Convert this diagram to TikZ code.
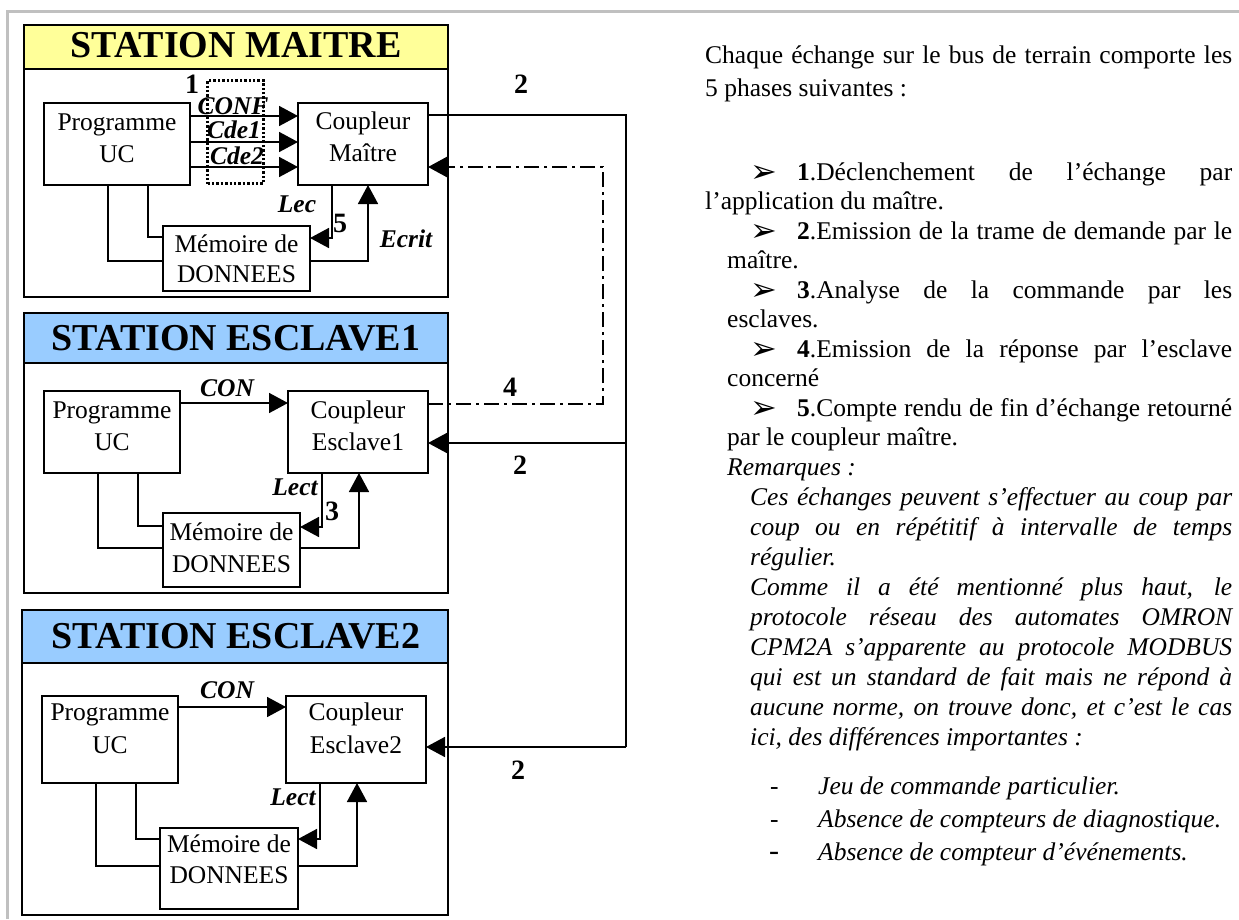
\documentclass[tikz,border=0pt]{standalone}
\usepackage{fontspec}
\setmainfont{Liberation Serif}
\newfontfamily\symf{DejaVu Sans}
\usetikzlibrary{arrows.meta}
\definecolor{ylw}{HTML}{FFFF99}
\definecolor{blu}{HTML}{99CCFF}
\definecolor{frm}{HTML}{C0C0C0}
\newcommand\jl[2]{\makebox[#1pt][s]{#2}}
\begin{document}
\begin{tikzpicture}[x=1pt,y=-1pt,line join=miter,
  bx/.style={draw, line width=1.9pt, inner sep=0pt, outer sep=0pt},
  stb/.style={draw, line width=2pt, inner sep=0pt, outer sep=0pt},
  ln/.style={line width=1.7pt},
  arr/.style={line width=1.7pt, -{Triangle[length=19pt,width=20pt]}},
  dd/.style={line width=2.4pt, dash pattern=on 15pt off 5pt on 3pt off 5pt},
  tb/.style={inner sep=0pt, anchor=base, font=\fontsize{25.5}{30}\selectfont},
  lb/.style={inner sep=0pt, font=\fontsize{25.5}{30}\selectfont\bfseries\itshape},
  nm/.style={inner sep=0pt, font=\fontsize{28}{30}\selectfont\bfseries},
  ttl/.style={inner sep=0pt, anchor=base, font=\fontsize{38}{40}\selectfont\bfseries},
  rt/.style={inner sep=0pt, anchor=base west, font=\fontsize{25.5}{30}\selectfont},
  ri/.style={inner sep=0pt, anchor=base west, font=\fontsize{25.5}{30}\selectfont\itshape},
  bul/.style={inner sep=0pt, anchor=base west, font=\fontsize{32}{32}\selectfont\symf}]
\useasboundingbox (0,0) rectangle (1239,919);
\draw[frm, line width=3pt] (7.5,919) -- (7.5,11.5) -- (1239,11.5);

% ---------------- STATION MAITRE
\node[stb, minimum width=424pt, minimum height=272pt] (sm) at (236,161) {};
\node[stb, fill=ylw, minimum width=424pt, minimum height=44pt, anchor=north west] (bm) at (24,25) {};
\node[ttl] (tm) at (236,57) {STATION MAITRE};
\node[bx, minimum width=146pt, minimum height=82pt] (pm) at (117,144) {};
\node[bx, minimum width=130pt, minimum height=82pt] (cm) at (363,144) {};
\node[bx, minimum width=147pt, minimum height=65pt] (mm) at (236.5,258.5) {};
\node[tb] (pm1) at (117,130) {Programme};
\node[tb] (pm2) at (117,162) {UC};
\node[tb] (cm1) at (363,129) {Coupleur};
\node[tb] (cm2) at (363,161) {Maître};
\node[tb] (mm1) at (236.5,252) {Mémoire de};
\node[tb] (mm2) at (236.5,282) {DONNEES};
\coordinate (a1) at (0,116);
\coordinate (a2) at (0,142);
\coordinate (a3) at (0,167);
\draw[arr] (pm.east |- a1) -- (cm.west |- a1);
\draw[arr] (pm.east |- a2) -- (cm.west |- a2);
\draw[arr] (pm.east |- a3) -- (cm.west |- a3);
\node[draw, line width=3pt, dash pattern=on 2.4pt off 2pt, inner sep=0pt, minimum width=56pt, minimum height=103pt] (dots) at (235.5,132) {};
\node[nm] (n1) at (192,84) {1};
\node[lb] (lconf) at (233,106) {CONF};
\node[lb] (lcde1) at (234,130) {Cde1};
\node[lb] (lcde2) at (237,156) {Cde2};
\coordinate (mlx) at (332,0);
\coordinate (mly) at (0,238);
\coordinate (mex) at (368,0);
\coordinate (mey) at (0,261);
\draw[arr] (cm.south -| mlx) |- (mm.east |- mly);
\draw[arr] (mm.east |- mey) -| (cm.south -| mex);
\coordinate (mp1x) at (108,0);
\coordinate (mp2x) at (148,0);
\coordinate (mp2y) at (0,237);
\draw[ln] (pm.south -| mp1x) |- (mm.west |- mey);
\draw[ln] (pm.south -| mp2x) |- (mm.west |- mp2y);
\node[lb] (llec) at (297,204) {Lec};
\node[nm] (n5) at (340,223) {5};
\node[lb] (lecr) at (406,239) {Ecrit};

% ---------------- STATION ESCLAVE1
\node[stb, minimum width=424pt, minimum height=280pt] (se1) at (236,453) {};
\node[stb, fill=blu, minimum width=424pt, minimum height=50pt, anchor=north west] (be1) at (24,313) {};
\node[ttl] (te1) at (236,350) {STATION ESCLAVE1};
\node[bx, minimum width=136pt, minimum height=82pt] (pe1) at (112,432) {};
\node[bx, minimum width=140pt, minimum height=82pt] (ce1) at (358,432) {};
\node[bx, minimum width=137pt, minimum height=74pt] (me1) at (231.5,550) {};
\node[tb] (pe1a) at (112,418) {Programme};
\node[tb] (pe1b) at (112,450) {UC};
\node[tb] (ce1a) at (358,418) {Coupleur};
\node[tb] (ce1b) at (358,450) {Esclave1};
\node[tb] (me1a) at (231.5,540) {Mémoire de};
\node[tb] (me1b) at (231.5,572) {DONNEES};
\coordinate (e1c) at (0,403);
\draw[arr] (pe1.east |- e1c) -- (ce1.west |- e1c);
\node[lb] (lcon1) at (227,388) {CON};
\coordinate (e1lx) at (322,0);
\coordinate (e1ly) at (0,527);
\coordinate (e1ux) at (359,0);
\coordinate (e1uy) at (0,548);
\draw[arr] (ce1.south -| e1lx) |- (me1.east |- e1ly);
\draw[arr] (me1.east |- e1uy) -| (ce1.south -| e1ux);
\coordinate (e1p1x) at (98,0);
\coordinate (e1p2x) at (138,0);
\coordinate (e1p2y) at (0,526);
\draw[ln] (pe1.south -| e1p1x) |- (me1.west |- e1uy);
\draw[ln] (pe1.south -| e1p2x) |- (me1.west |- e1p2y);
\node[lb] (llect1) at (295,487) {Lect};
\node[nm] (n3) at (332,511) {3};

% ---------------- STATION ESCLAVE2
\node[stb, minimum width=426pt, minimum height=305pt] (se2) at (235,762.5) {};
\node[stb, fill=blu, minimum width=426pt, minimum height=53pt, anchor=north west] (be2) at (22,610) {};
\node[ttl] (te2) at (236,648) {STATION ESCLAVE2};
\node[bx, minimum width=136pt, minimum height=87pt] (pe2) at (110,739.5) {};
\node[bx, minimum width=140pt, minimum height=87pt] (ce2) at (356,739.5) {};
\node[bx, minimum width=138pt, minimum height=81pt] (me2) at (229,868.5) {};
\node[tb] (pe2a) at (110,720) {Programme};
\node[tb] (pe2b) at (110,753) {UC};
\node[tb] (ce2a) at (356,720) {Coupleur};
\node[tb] (ce2b) at (356,753) {Esclave2};
\node[tb] (me2a) at (229,852) {Mémoire de};
\node[tb] (me2b) at (229,883) {DONNEES};
\coordinate (e2c) at (0,707);
\draw[arr] (pe2.east |- e2c) -- (ce2.west |- e2c);
\node[lb] (lcon2) at (227,690) {CON};
\coordinate (e2lx) at (320,0);
\coordinate (e2ly) at (0,839);
\coordinate (e2ux) at (357,0);
\coordinate (e2uy) at (0,866);
\draw[arr] (ce2.south -| e2lx) |- (me2.east |- e2ly);
\draw[arr] (me2.east |- e2uy) -| (ce2.south -| e2ux);
\coordinate (e2p1x) at (96,0);
\coordinate (e2p2x) at (136,0);
\draw[ln] (pe2.south -| e2p1x) |- (me2.west |- e2uy);
\draw[ln] (pe2.south -| e2p2x) |- (me2.west |- e2ly);
\node[lb] (llect2) at (293,797) {Lect};

% ---------------- BUS
\coordinate (bus1) at (626,115);
\coordinate (bus2) at (626,443);
\coordinate (bus3) at (626,747);
\draw[ln] (cm.east |- bus1) -- (bus1) -- (bus3);
\draw[arr] (bus2) -- (ce1.east |- bus2);
\draw[arr] (bus3) -- (ce2.east |- bus3);
\coordinate (dd1) at (603,404);
\coordinate (dd2) at (603,167);
\draw[dd, -{Triangle[length=19pt,width=20pt]}] (ce1.east |- dd1) -- (dd1) -- (dd2) -- (cm.east |- dd2);
\node[nm] (l2a) at (521,84) {2};
\node[nm] (l4) at (510,387) {4};
\node[nm] (l2b) at (520,465) {2};
\node[nm] (l2c) at (518,770) {2};

% ---------------- TEXT
\node[rt] (t1) at (705,63) {\jl{527}{Chaque échange sur le bus de terrain comporte les}};
\node[rt] (t2) at (705,96) {5 phases suivantes :};
\node[bul] (b1) at (750,182) {➢};
\node[rt] (t3) at (797,180) {\jl{435}{\textbf{1}.Déclenchement de l’échange par}};
\node[rt] (t4) at (705,209.5) {l’application du maître.};
\node[bul] (b2) at (750,241) {➢};
\node[rt] (t5) at (797,239) {\jl{435}{\textbf{2}.Emission de la trame de demande par le}};
\node[rt] (t6) at (727,268.5) {maître.};
\node[bul] (b3) at (750,300) {➢};
\node[rt] (t7) at (797,298) {\jl{435}{\textbf{3}.Analyse de la commande par les}};
\node[rt] (t8) at (727,327.5) {esclaves.};
\node[bul] (b4) at (750,359) {➢};
\node[rt] (t9) at (797,357) {\jl{435}{\textbf{4}.Emission de la réponse par l’esclave}};
\node[rt] (t10) at (727,386.5) {concerné};
\node[bul] (b5) at (750,418) {➢};
\node[rt] (t11) at (797,416) {\jl{435}{\textbf{5}.Compte rendu de fin d’échange retourné}};
\node[rt] (t12) at (727,445.5) {par le coupleur maître.};
\node[ri] (t13) at (727,475) {Remarques :};
\node[ri] (t14) at (750,505) {\jl{482}{Ces échanges peuvent s’effectuer au coup par}};
\node[ri] (t15) at (750,535) {\jl{482}{coup ou en répétitif à intervalle de temps}};
\node[ri] (t16) at (750,565) {régulier.};
\node[ri] (t17) at (750,595) {\jl{482}{Comme il a été mentionné plus haut, le}};
\node[ri] (t18) at (750,625) {\jl{482}{protocole réseau des automates OMRON}};
\node[ri] (t19) at (750,655) {\jl{482}{CPM2A s’apparente au protocole MODBUS}};
\node[ri] (t20) at (750,685) {\jl{482}{qui est un standard de fait mais ne répond à}};
\node[ri] (t21) at (750,715) {\jl{482}{aucune norme, on trouve donc, et c’est le cas}};
\node[ri] (t22) at (750,745) {ici, des différences importantes :};
\node[rt] (d1) at (770,794) {-};
\node[ri] (t23) at (818,794) {Jeu de commande particulier.};
\node[rt] (d2) at (770,827) {-};
\node[ri] (t24) at (818,827) {Absence de compteurs de diagnostique.};
\node[rt, font=\fontsize{30}{30}\selectfont] (d3) at (769,860) {-};
\node[ri] (t25) at (818,860) {Absence de compteur d’événements.};
\end{tikzpicture}
\end{document}
